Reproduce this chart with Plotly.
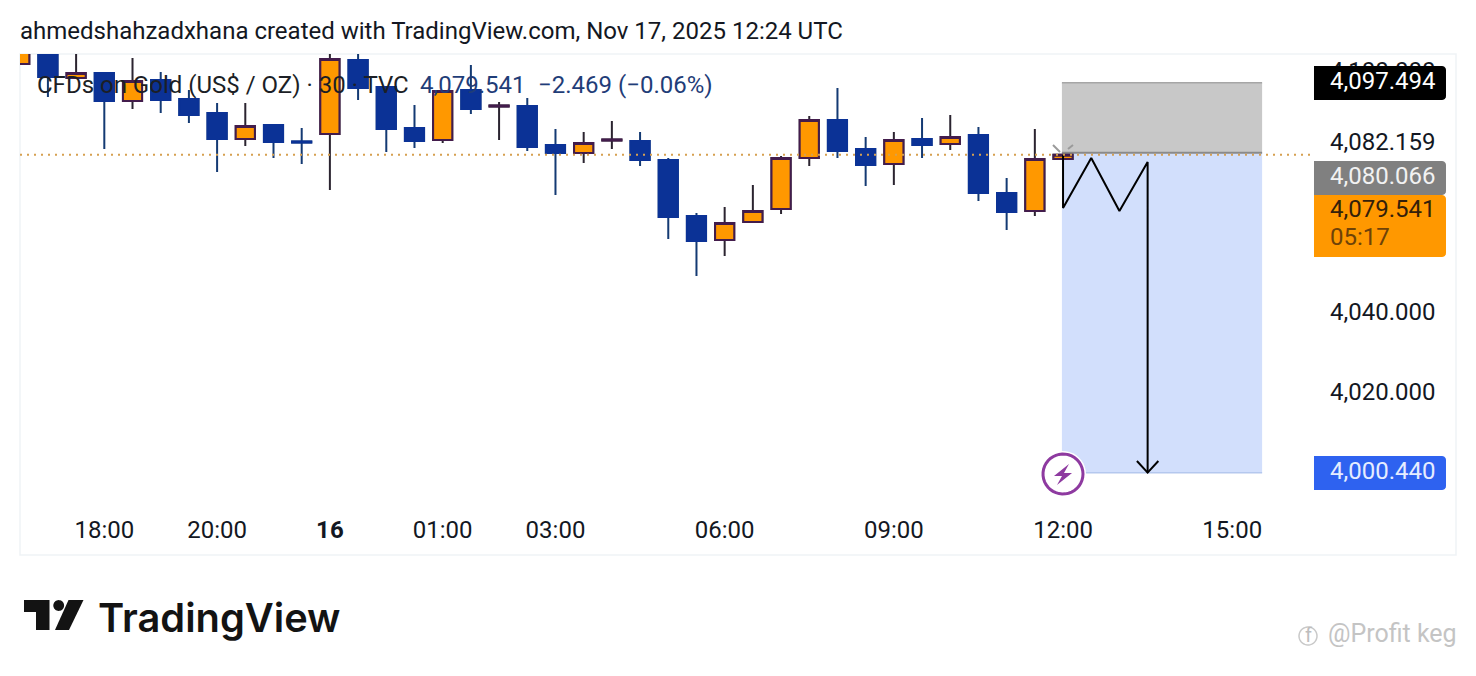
import numpy as np
import plotly.graph_objects as go

W, H = 1476, 676

# --- OHLC, 30 min bars, bar 0 is the one at 12:00 ---
bars = list(range(-37, 1))
opens = [4102.15, 4105.64, 4098.67, 4099.91, 4092.94, 4098.17, 4093.44, 4089.95, 4083.48, 4086.97,
         4082.86, 4084.73, 4103.15, 4096.43, 4086.22, 4083.23, 4095.68, 4091.57, 4091.70, 4081.99,
         4080.00, 4083.11, 4082.99, 4078.26, 4064.32, 4058.34, 4062.82, 4066.06, 4078.75, 4088.21,
         4080.99, 4077.26, 4083.48, 4082.24, 4084.48, 4070.04, 4065.56, 4078.50]
highs = [4106.88, 4108.12, 4106.88, 4100.16, 4103.64, 4100.16, 4095.68, 4092.44, 4092.44, 4087.22,
         4086.22, 4105.14, 4105.64, 4096.43, 4091.94, 4095.43, 4101.90, 4092.69, 4093.69, 4085.97,
         4085.22, 4087.96, 4085.22, 4078.75, 4065.06, 4066.56, 4072.03, 4079.25, 4089.21, 4096.18,
         4083.98, 4085.22, 4088.71, 4089.46, 4086.47, 4073.77, 4085.97, 4079.541]
lows = [4102.15, 4093.94, 4098.67, 4080.99, 4090.95, 4089.95, 4087.47, 4075.27, 4081.74, 4078.75,
        4077.26, 4070.79, 4093.19, 4080.25, 4081.24, 4082.49, 4089.71, 4083.23, 4080.50, 4069.54,
        4077.51, 4080.99, 4076.76, 4058.59, 4049.38, 4054.36, 4062.57, 4064.81, 4076.76, 4078.75,
        4071.79, 4072.03, 4078.75, 4080.75, 4068.05, 4060.83, 4064.32, 4078.50]
closes = [4105.64, 4098.91, 4099.91, 4092.94, 4097.92, 4093.19, 4089.46, 4083.48, 4086.72, 4082.74,
          4082.61, 4103.39, 4096.18, 4085.97, 4082.99, 4095.43, 4090.95, 4091.82, 4081.49, 4080.00,
          4082.49, 4083.36, 4078.26, 4064.07, 4058.10, 4062.57, 4065.56, 4078.75, 4088.21, 4080.50,
          4077.01, 4083.23, 4081.99, 4083.98, 4070.04, 4065.31, 4078.50, 4079.541]

time_ticks = [-34, -30, -26, -22, -18, -12, -6, 0, 6]
time_labels = ["18:00", "20:00", "<b>16</b>", "01:00", "03:00", "06:00", "09:00", "12:00", "15:00"]

price_ticks = [4100.0, 4082.159, 4040.0, 4020.0]
price_labels = ["4,100.000", "4,082.159", "4,040.000", "4,020.000"]

# short position drawing
last_price = 4079.541
stop_price = 4097.494
entry_price = 4080.066
target_price = 4000.44
position_bars = [-0.04, 7.06]
path_bars = [0, 0, 1, 2, 3, 3]
path_prices = [4079.50, 4066.31, 4078.75, 4065.56, 4077.76, 4000.44]
head_bars = [2.62, 3, 3.38]
head_prices = [4003.34, 4000.44, 4003.34]

# colours
ORANGE = "#ff9800"
BLUE = "#0b3296"
ORANGE_EDGE = "#431c4c"
ORANGE_WICK = "#2b2430"
BLUE_WICK = "#143a73"
FONT = "Roboto"
TEXT_SIZE = 24

# axis ranges
PLOT_TOP = 4104.64
PLOT_BOTTOM = 3991.64
LABEL_LIFT = 0.62  # the price labels sit about 2.5px above their level


def px(x, y):
    return x / W, 1 - y / H


def path(points, close=True):
    pts = [px(*p) for p in points]
    d = "M" + " L".join(f"{a:.5f},{b:.5f}" for a, b in pts)
    return d + (" Z" if close else "")


def tag(x0, y0, x1, y1, r=4):
    # price label: square on the left, rounded on the right
    steps = np.linspace(0, np.pi / 2, 6)
    top = [(x1 - r + r * np.sin(t), y0 + r - r * np.cos(t)) for t in steps]
    bottom = [(x1 - r + r * np.cos(t), y1 - r + r * np.sin(t)) for t in steps]
    return path([(x0, y0)] + top + bottom + [(x0, y1)])


def circle(cx, cy, r):
    return [(cx + r * np.cos(t), cy + r * np.sin(t)) for t in np.linspace(0, 2 * np.pi, 40)]


def shape_px(points, fill=None, line=None, width=0, close=True):
    return dict(
        type="path",
        xref="paper",
        yref="paper",
        path=path(points, close),
        fillcolor=fill if fill else "rgba(0,0,0,0)",
        line=dict(color=line if line else "rgba(0,0,0,0)", width=width),
        layer="above",
    )


def label(x, y, text, size=TEXT_SIZE, color="#131722", anchor="left", family=FONT, weight=None):
    xp, yp = px(x, y)
    font = dict(family=family, size=size, color=color)
    if weight:
        font["weight"] = weight
    return dict(
        x=xp,
        y=yp,
        xref="paper",
        yref="paper",
        text=text,
        showarrow=False,
        xanchor=anchor,
        yanchor="middle",
        borderpad=0,
        borderwidth=0,
        font=font,
    )


fig = go.Figure()

# wicks first, then the bodies on top, they have different colours on the chart
fig.add_trace(
    go.Candlestick(
        x=bars, open=opens, high=highs, low=lows, close=closes,
        increasing=dict(line=dict(color=ORANGE_WICK, width=2), fillcolor=ORANGE),
        decreasing=dict(line=dict(color=BLUE_WICK, width=2), fillcolor=BLUE),
        whiskerwidth=0,
        showlegend=False,
    )
)
fig.add_trace(
    go.Candlestick(
        x=bars, open=opens, close=closes,
        high=np.maximum(opens, closes), low=np.minimum(opens, closes),
        increasing=dict(line=dict(color=ORANGE_EDGE, width=2), fillcolor=ORANGE),
        decreasing=dict(line=dict(color=BLUE, width=2), fillcolor=BLUE),
        whiskerwidth=0,
        showlegend=False,
    )
)

# projected path and arrow head
fig.add_trace(
    go.Scatter(x=path_bars, y=path_prices, mode="lines", line=dict(color="black", width=2), showlegend=False)
)
fig.add_trace(
    go.Scatter(x=head_bars, y=head_prices, mode="lines", line=dict(color="black", width=2), showlegend=False)
)

# empty trace that only carries the price labels on their own axis
fig.add_trace(
    go.Scatter(x=[0] * len(price_ticks), y=price_ticks, mode="none", yaxis="y2", showlegend=False, hoverinfo="skip")
)

shapes = [
    # chart frame
    dict(type="rect", xref="paper", yref="paper", x0=20 / W, x1=1456 / W, y0=1 - 555 / H, y1=1 - 54 / H,
         line=dict(color="#f0f3f6", width=1.5), layer="below"),
    # position boxes
    dict(type="rect", x0=position_bars[0], x1=position_bars[1], y0=entry_price, y1=stop_price,
         fillcolor="#c8c8c8", line=dict(width=0), layer="below"),
    dict(type="rect", x0=position_bars[0], x1=position_bars[1], y0=target_price, y1=entry_price,
         fillcolor="#d2dffc", line=dict(width=0), layer="below"),
    dict(type="line", x0=position_bars[0], x1=position_bars[1], y0=stop_price, y1=stop_price,
         line=dict(color="#a6a6a6", width=1.5), layer="below"),
    dict(type="line", x0=position_bars[0], x1=position_bars[1], y0=entry_price, y1=entry_price,
         line=dict(color="#8a8a8a", width=2), layer="below"),
    dict(type="line", x0=position_bars[0], x1=position_bars[1], y0=target_price, y1=target_price,
         line=dict(color="#b5c8ee", width=1.5), layer="below"),
    # last price line
    dict(type="line", xref="paper", x0=20 / W, x1=1312 / W, y0=last_price, y1=last_price,
         line=dict(color="#d6a050", width=2, dash="2px,5px"), layer="above"),
    # little grey handles on the last bar
    shape_px([(1053, 145), (1060, 152)], line="#9a9a9a", width=2, close=False),
    shape_px([(1068, 149), (1073, 145)], line="#9a9a9a", width=2, close=False),
    # price tags
    dict(type="path", xref="paper", yref="paper", path=tag(1314, 66, 1446, 100), fillcolor="#000000",
         line=dict(width=0), layer="above"),
    dict(type="path", xref="paper", yref="paper", path=tag(1314, 161, 1446, 195), fillcolor="#808080",
         line=dict(width=0), layer="above"),
    dict(type="path", xref="paper", yref="paper", path=tag(1314, 195, 1446, 257), fillcolor=ORANGE,
         line=dict(width=0), layer="above"),
    dict(type="path", xref="paper", yref="paper", path=tag(1314, 456, 1446, 490), fillcolor="#2e62f0",
         line=dict(width=0), layer="above"),
    # lightning badge
    shape_px(circle(1063, 474, 23), fill="white"),
    shape_px(circle(1063, 474, 20), fill="white", line="#8e3aa0", width=3),
    shape_px([(1069, 464), (1054, 476), (1062, 476), (1057, 485), (1072, 473), (1064, 473)], fill="#8e3aa0"),
    # TradingView logo mark
    shape_px([(24, 600), (49.5, 600), (49.5, 630), (36, 630), (36, 612), (24, 612)], fill="#131313"),
    shape_px(circle(58.7, 605.5, 5.4), fill="#131313"),
    shape_px([(68.5, 600), (83.5, 600), (69, 630), (55, 630)], fill="#131313"),
    # watermark icon
    shape_px(circle(1308, 636, 9), line="#c9c9c9", width=1.5),
]

annotations = [
    label(20, 31, "ahmedshahzadxhana created with TradingView.com, Nov 17, 2025 12:24 UTC"),
    label(37, 85, "CFDs on Gold (US$ / OZ) · 30 · TVC", color="#1c1f26"),
    label(420, 85, "4,079.541", color="#1f3d78"),
    label(538, 85, "−2.469 (−0.06%)", color="#1f3d78"),
    label(1330, 81, "4,097.494", color="white"),
    label(1330, 176, "4,080.066", color="#f2f2f2"),
    label(1330, 209, "4,079.541", color="#33200a"),
    label(1330, 237, "05:17", color="#6e4208"),
    label(1330, 471, "4,000.440", color="#e6edff"),
    label(98, 617, "TradingView", size=39.8, color="#131313", family="Inter", weight=600),
    label(1305, 635, "f", size=20, color="#bdbdbd"),
    label(1328, 633, "@Profit keg", size=25, color="#c4c4c4"),
]

fig.update_layout(
    width=W,
    height=H,
    margin=dict(l=0, r=0, t=0, b=0),
    paper_bgcolor="white",
    plot_bgcolor="white",
    showlegend=False,
    boxgap=0.03,
    font=dict(family=FONT, size=TEXT_SIZE, color="#131722"),
    shapes=shapes,
    annotations=annotations,
    xaxis=dict(
        domain=[20 / W, 1314 / W],
        range=[-36.99, 8.9],
        tickmode="array",
        tickvals=time_ticks,
        ticktext=time_labels,
        showgrid=False,
        zeroline=False,
        showline=False,
        ticks="",
        ticklabelstandoff=5,
        rangeslider=dict(visible=False),
        tickfont=dict(family=FONT, size=TEXT_SIZE, color="#131722"),
    ),
    yaxis=dict(
        domain=[1 - 508 / H, 1 - 54 / H],
        range=[PLOT_BOTTOM, PLOT_TOP],
        showgrid=False,
        zeroline=False,
        showline=False,
        showticklabels=False,
        ticks="",
    ),
    yaxis2=dict(
        domain=[1 - 508 / H, 1 - 54 / H],
        range=[PLOT_BOTTOM - LABEL_LIFT, PLOT_TOP - LABEL_LIFT],
        overlaying="y",
        anchor="x",
        side="right",
        tickmode="array",
        tickvals=price_ticks,
        ticktext=price_labels,
        showgrid=False,
        zeroline=False,
        showline=False,
        ticks="",
        ticklabelstandoff=15,
        tickfont=dict(family=FONT, size=TEXT_SIZE, color="#131722"),
    ),
)

fig.write_html(
    "out.html",
    config=dict(displayModeBar=False),
    post_script="document.body.style.margin='0';",
)
